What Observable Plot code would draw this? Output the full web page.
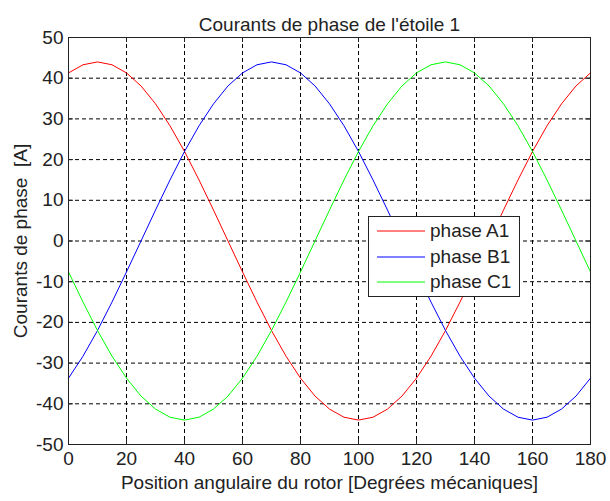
<!DOCTYPE html>
<html><head><meta charset="utf-8">
<script src="https://cdn.jsdelivr.net/npm/d3@7"></script>
<script src="https://cdn.jsdelivr.net/npm/@observablehq/plot@0.6"></script>
<style>
body{margin:0;background:#fff;}
#wrap{position:relative;width:610px;height:501px;font-family:"Liberation Sans",Arial,sans-serif;color:#222;}
#legend{position:absolute;left:368px;top:216px;width:152px;height:81px;border:1px solid #222;background:#fff;box-sizing:border-box;}
.item{position:absolute;left:0;height:22px;width:150px;}
.item svg{position:absolute;left:8px;top:0;width:48px;height:22px;}
.item .lb{position:absolute;left:61px;top:0;line-height:22px;font-size:19px;white-space:nowrap;}
</style>
</head><body>
<div id="wrap"></div>
<script>
const title = "Courants de phase de l'étoile 1";
const xLabel = "Position angulaire du rotor [Degrées mécaniques]";
const yLabel = "Courants de phase \u00a0[A]";
const seriesNames = ["phase A1", "phase B1", "phase C1"];
const seriesColors = ["#ff0000", "#0000ff", "#00ff00"];
const xTicks = [0, 20, 40, 60, 80, 100, 120, 140, 160, 180];
const yTicks = [-50, -40, -30, -20, -10, 0, 10, 20, 30, 40, 50];
const positions = [0,5,10,15,20,25,30,35,40,45,50,55,60,65,70,75,80,85,90,95,100,105,110,115,120,125,130,135,140,145,150,155,160,165,170,175,180];
const phaseA1 = [41.3,43.3,44,43.3,41.3,38.1,33.7,28.3,22,15,7.6,0,-7.6,-15,-22,-28.3,-33.7,-38.1,-41.3,-43.3,-44,-43.3,-41.3,-38.1,-33.7,-28.3,-22,-15,-7.6,0,7.6,15,22,28.3,33.7,38.1,41.3];
const phaseB1 = [-33.7,-28.3,-22,-15,-7.6,0,7.6,15,22,28.3,33.7,38.1,41.3,43.3,44,43.3,41.3,38.1,33.7,28.3,22,15,7.6,0,-7.6,-15,-22,-28.3,-33.7,-38.1,-41.3,-43.3,-44,-43.3,-41.3,-38.1,-33.7];
const phaseC1 = [-7.6,-15,-22,-28.3,-33.7,-38.1,-41.3,-43.3,-44,-43.3,-41.3,-38.1,-33.7,-28.3,-22,-15,-7.6,0,7.6,15,22,28.3,33.7,38.1,41.3,43.3,44,43.3,41.3,38.1,33.7,28.3,22,15,7.6,0,-7.6];

const seriesValues = [phaseA1, phaseB1, phaseC1];
const rows = [];
seriesValues.forEach((vals, i) => vals.forEach((v, j) => rows.push({x: positions[j], v, s: seriesNames[i]})));

const W = 610, H = 501, mT = 37, mL = 68, mR = 20, mB = 57;
const pw = W - mL - mR, ph = H - mT - mB, tk = 5;
const ink = "#222";
const fmt = d => String(d);

const chart = Plot.plot({
  width: W, height: H,
  marginTop: mT, marginLeft: mL, marginRight: mR, marginBottom: mB,
  style: {fontFamily: '"Liberation Sans", Arial, sans-serif', fontSize: "19px", color: ink, background: "#fff"},
  x: {domain: [0, 180]},
  y: {domain: [-50, 50]},
  color: {domain: seriesNames, range: seriesColors},
  marks: [
    Plot.gridX(xTicks, {stroke: "#000", strokeOpacity: 1, strokeDasharray: "4,3"}),
    Plot.gridY(yTicks, {stroke: "#000", strokeOpacity: 1, strokeDasharray: "4,3"}),
    Plot.ruleX(xTicks, {insetTop: ph - tk, stroke: ink}),
    Plot.ruleX(xTicks, {insetBottom: ph - tk, stroke: ink}),
    Plot.ruleY(yTicks, {insetRight: pw - tk, stroke: ink}),
    Plot.ruleY(yTicks, {insetLeft: pw - tk, stroke: ink}),
    Plot.line(rows, {x: "x", y: "v", z: "s", stroke: "s", strokeWidth: 1}),
    Plot.frame({stroke: ink}),
    Plot.axisX(xTicks, {tickSize: 0, tickPadding: 7, fontSize: 19, tickFormat: fmt, label: xLabel, labelAnchor: "center", labelArrow: "none", labelOffset: 44}),
    Plot.axisY(yTicks, {tickSize: 0, tickPadding: 5, fontSize: 19, tickFormat: fmt, label: yLabel, labelAnchor: "center", labelArrow: "none", labelOffset: 55}),
    Plot.text([title], {frameAnchor: "top", dy: -20, fontSize: 19, fill: ink})
  ]
});
const wrap = document.getElementById("wrap");
wrap.appendChild(chart);

const legend = document.createElement("div");
legend.id = "legend";
const rowTops = [3, 29, 54];
const NS = "http://www.w3.org/2000/svg";
seriesNames.forEach((n, i) => {
  const it = document.createElement("div");
  it.className = "item";
  it.style.top = rowTops[i] + "px";
  const sv = document.createElementNS(NS, "svg");
  sv.setAttribute("width", 48); sv.setAttribute("height", 22);
  const ln = document.createElementNS(NS, "line");
  ln.setAttribute("x1", 0); ln.setAttribute("x2", 48);
  ln.setAttribute("y1", 11); ln.setAttribute("y2", 11);
  ln.setAttribute("stroke", seriesColors[i]); ln.setAttribute("stroke-width", 1);
  sv.appendChild(ln);
  const lb = document.createElement("div");
  lb.className = "lb"; lb.textContent = n;
  it.appendChild(sv); it.appendChild(lb);
  legend.appendChild(it);
});
wrap.appendChild(legend);
</script>
</body></html>
